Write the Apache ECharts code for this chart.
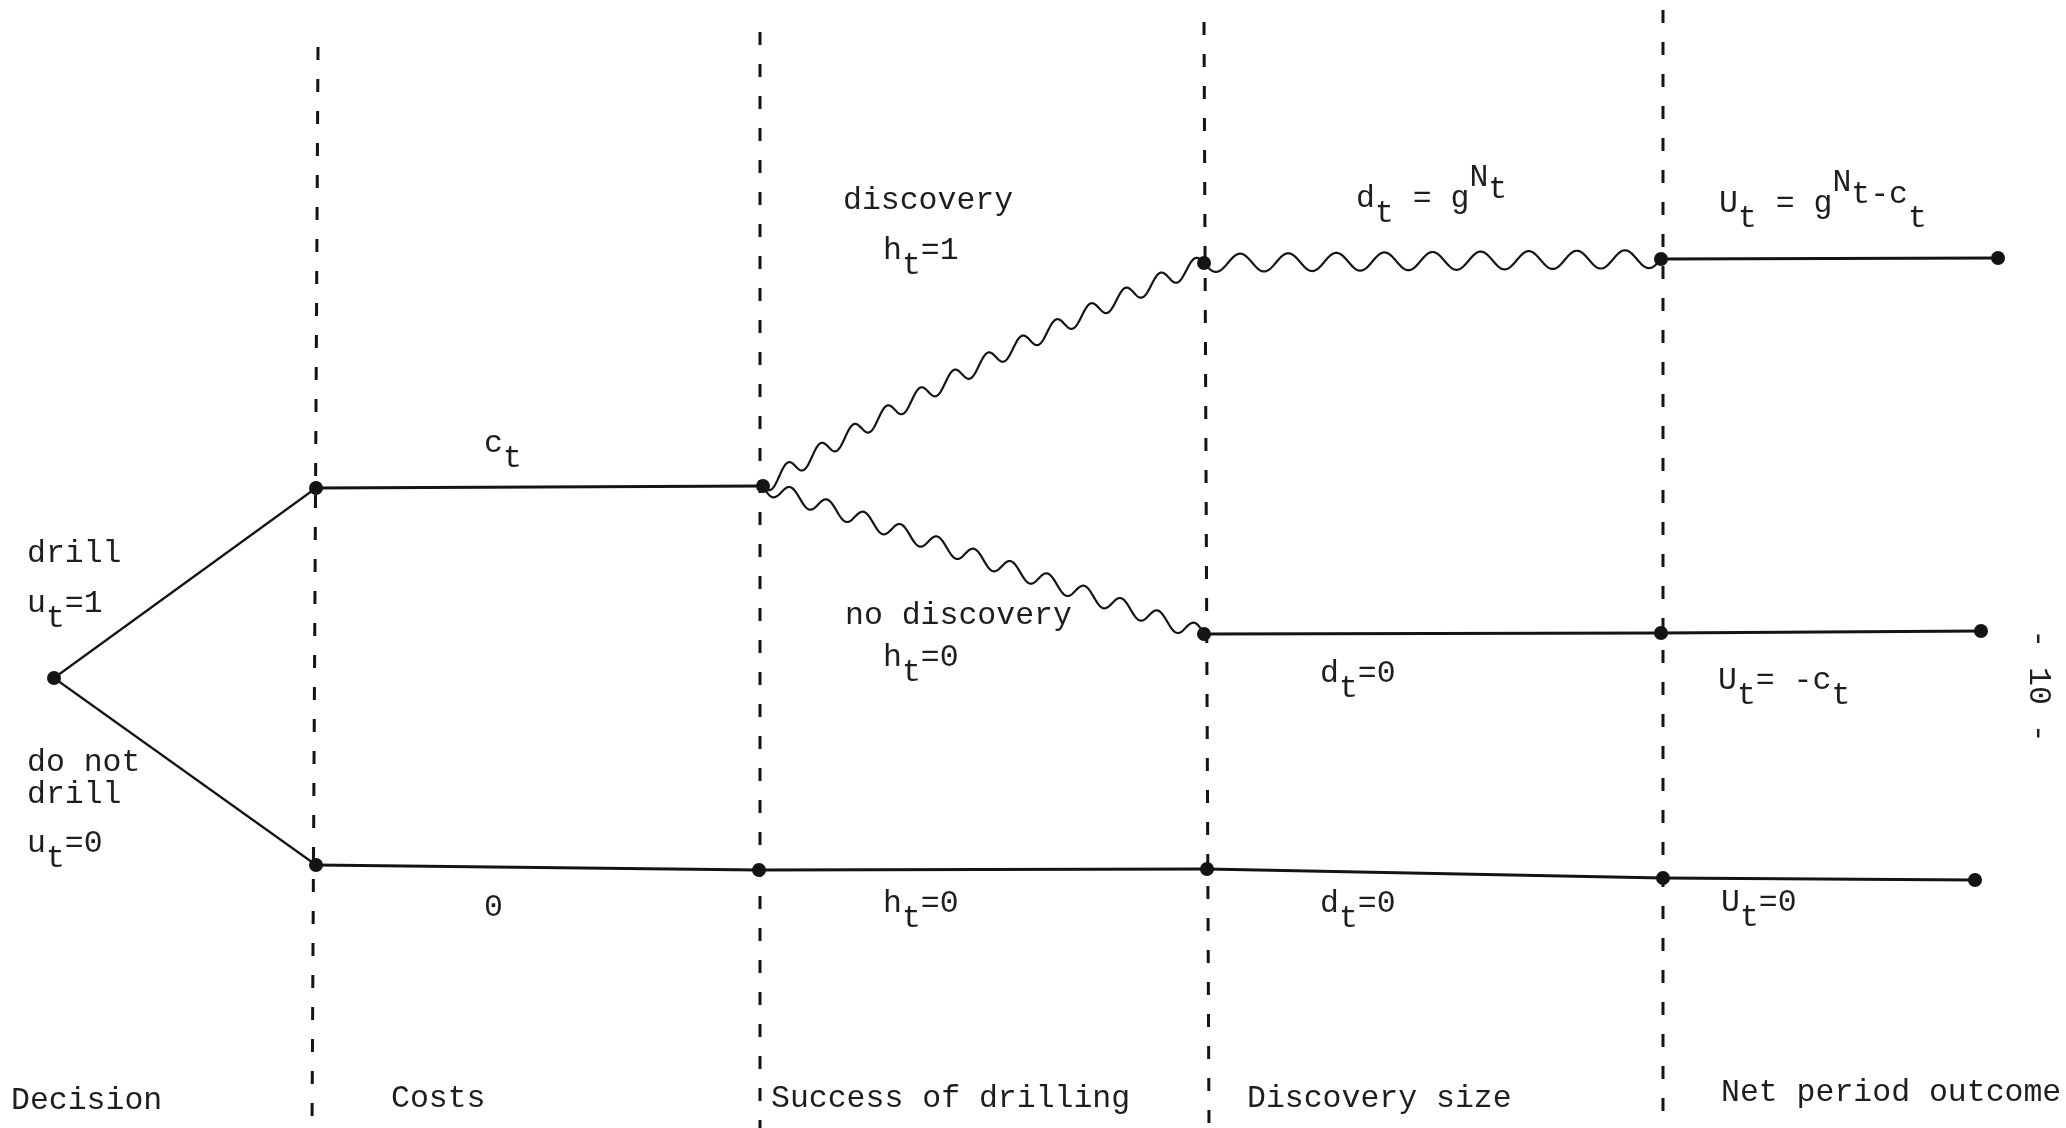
<!DOCTYPE html>
<html>
<head>
<meta charset="utf-8">
<script src="https://cdn.jsdelivr.net/npm/echarts@6/dist/echarts.min.js"></script>
<style>
html,body{margin:0;padding:0;background:#ffffff;}
#c{width:2066px;height:1128px;}
</style>
</head>
<body>
<div id="c"></div>
<script>
// ---- stage separators (dashed verticals) ----
const stageTopX = [318, 760, 1204, 1663];
const stageBottomX = [312, 760, 1209, 1663];
const stageTopY = [47, 32, 22, 10];

// ---- tree nodes ----
const nodeNames = ['root','drill','noDrill','cost','zero2','disc','noDisc','zero3','disc4','noDisc4','zero4','discEnd','noDiscEnd','zeroEnd'];
const nodeX = [54, 316, 316, 763, 759, 1204, 1204, 1207, 1661, 1661, 1663, 1998, 1981, 1975];
const nodeY = [678, 488, 865, 486, 870, 263, 634, 869, 259, 633, 878, 258, 631, 880];

// ---- tree edges ----
const edgeFrom = ['root','root','drill','noDrill','zero2','zero3','zero4','cost','cost','disc','noDisc','noDisc4','disc4'];
const edgeTo   = ['drill','noDrill','cost','zero2','zero3','zero4','zeroEnd','disc','noDisc','disc4','noDisc4','noDiscEnd','discEnd'];
const edgeKind = ['line','line','line','line','line','line','line','wave','wave','wave','line','line','line'];

// ---- text labels ----
const labelX = [843, 883, 1356, 1719, 484, 27, 27, 27, 27, 27, 845, 883, 1320, 1718, 484, 883, 1320, 1721, 11, 391, 771, 1247, 1721, 2038];
const labelY = [201, 251, 199, 204, 444, 554, 604, 763, 795, 844, 616, 658, 674, 681, 908, 904, 904, 903, 1101, 1099, 1099, 1099, 1093, 686];
const labelParts = [
  [['discovery','b']],
  [['h','b'],['t','sub'],['=1','b']],
  [['d','b'],['t','sub'],[' = g','b'],['N','sup'],['t','mid']],
  [['U','b'],['t','sub'],[' = g','b'],['N','sup'],['t-c','mid'],['t','sub']],
  [['c','b'],['t','sub']],
  [['drill','b']],
  [['u','b'],['t','sub'],['=1','b']],
  [['do not','b']],
  [['drill','b']],
  [['u','b'],['t','sub'],['=0','b']],
  [['no discovery','b']],
  [['h','b'],['t','sub'],['=0','b']],
  [['d','b'],['t','sub'],['=0','b']],
  [['U','b'],['t','sub'],['= -c','b'],['t','sub']],
  [['0','b']],
  [['h','b'],['t','sub'],['=0','b']],
  [['d','b'],['t','sub'],['=0','b']],
  [['U','b'],['t','sub'],['=0','b']],
  [['Decision','b']],
  [['Costs','b']],
  [['Success of drilling','b']],
  [['Discovery size','b']],
  [['Net period outcome','b']],
  [['- 10 -','rot']]
];

// ---- styling (kept apart from data) ----
const INK = '#141414';
const TEXT = '#1e1e1e';
const FS = 31.5;
const CW = FS * 0.6;
const FONT = FS + 'px "Liberation Mono", "DejaVu Sans Mono", monospace';
const levelDy = { b: 0, sub: 15, sup: -21, mid: -9, rot: 0 };
const waveStyle = {
  'cost-disc':   { periods: 13, amp: 8.5, bend: -20 },
  'cost-noDisc': { periods: 12, amp: 8, bend: 0 },
  'disc-disc4':  { periods: 9.5, amp: 9, bend: 0 }
};
const lineWidthFor = (f, t) => (f === 'root' ? 2.2 : 2.8);

const idx = n => nodeNames.indexOf(n);

const chart = echarts.init(document.getElementById('c'), null, { renderer: 'canvas' });

const sepData = stageTopX.map((x, i) => [x, stageTopY[i], stageBottomX[i], 1128]);
const edgeData = edgeFrom.map((f, i) => {
  const a = idx(f), b = idx(edgeTo[i]);
  return [nodeX[a], nodeY[a], nodeX[b], nodeY[b], i];
});
const nodeData = nodeNames.map((n, i) => [nodeX[i], nodeY[i]]);
const labelData = labelX.map((x, i) => [x, labelY[i], i]);

// hand-drawn style wave: vertical oscillation riding on a (slightly bent) centre path
function wavePoints(p0, p1, ws) {
  const mx = (p0[0] + p1[0]) / 2, my = (p0[1] + p1[1]) / 2;
  const dx = p1[0] - p0[0], dy = p1[1] - p0[1];
  const L = Math.hypot(dx, dy);
  const nx = -dy / L, ny = dx / L;
  const c = [mx + nx * ws.bend, my + ny * ws.bend];
  const pts = [];
  const N = 900;
  for (let k = 0; k <= N; k++) {
    const t = k / N;
    const u = 1 - t;
    const bx = u * u * p0[0] + 2 * u * t * c[0] + t * t * p1[0];
    const by = u * u * p0[1] + 2 * u * t * c[1] + t * t * p1[1];
    const s = ws.amp * Math.sin(2 * Math.PI * ws.periods * t);
    pts.push([bx, by + s]);
  }
  return pts;
}

const option = {
  backgroundColor: '#ffffff',
  animation: false,
  grid: { left: 0, right: 0, top: 0, bottom: 0 },
  xAxis: { type: 'value', min: 0, max: 2066, show: false },
  yAxis: { type: 'value', min: 0, max: 1128, inverse: true, show: false },
  series: [
    {
      type: 'custom', silent: true, z: 1,
      data: sepData,
      encode: { x: [0, 2], y: [1, 3] },
      renderItem: (params, api) => {
        const a = api.coord([api.value(0), api.value(1)]);
        const b = api.coord([api.value(2), api.value(3)]);
        return {
          type: 'line',
          shape: { x1: a[0], y1: a[1], x2: b[0], y2: b[1] },
          style: { stroke: INK, lineWidth: 3, lineDash: [13, 19] }
        };
      }
    },
    {
      type: 'custom', silent: true, z: 2,
      data: edgeData,
      encode: { x: [0, 2], y: [1, 3] },
      renderItem: (params, api) => {
        const i = api.value(4);
        const a = api.coord([api.value(0), api.value(1)]);
        const b = api.coord([api.value(2), api.value(3)]);
        if (edgeKind[i] === 'wave') {
          const ws = waveStyle[edgeFrom[i] + '-' + edgeTo[i]];
          return {
            type: 'polyline',
            shape: { points: wavePoints(a, b, ws) },
            style: { stroke: INK, lineWidth: 2.2, fill: null, lineJoin: 'round' }
          };
        }
        return {
          type: 'line',
          shape: { x1: a[0], y1: a[1], x2: b[0], y2: b[1] },
          style: { stroke: INK, lineWidth: lineWidthFor(edgeFrom[i], edgeTo[i]) }
        };
      }
    },
    {
      type: 'scatter', silent: true, z: 3,
      data: nodeData,
      symbol: 'circle',
      symbolSize: 14,
      itemStyle: { color: INK, opacity: 1 }
    },
    {
      type: 'custom', silent: true, z: 4,
      data: labelData,
      encode: { x: 0, y: 1 },
      renderItem: (params, api) => {
        const i = api.value(2);
        const p = api.coord([api.value(0), api.value(1)]);
        const parts = labelParts[i];
        if (parts[0][1] === 'rot') {
          return {
            type: 'text', x: p[0], y: p[1], rotation: -Math.PI / 2,
            style: { text: parts[0][0], font: FONT, fill: TEXT, align: 'center', verticalAlign: 'middle' }
          };
        }
        let col = 0;
        const children = parts.map(([t, lv]) => {
          const el = {
            type: 'text', x: p[0] + col * CW, y: p[1] + levelDy[lv],
            style: { text: t, font: FONT, fill: TEXT, align: 'left', verticalAlign: 'middle' }
          };
          col += t.length;
          return el;
        });
        return { type: 'group', children };
      }
    }
  ]
};
chart.setOption(option);
</script>
</body>
</html>
